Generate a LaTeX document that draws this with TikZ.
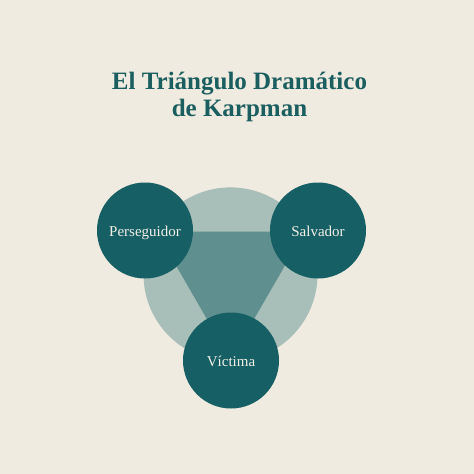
\documentclass[tikz,border=0pt]{standalone}
\usepackage{fontspec}
\setmainfont{Liberation Serif}
\definecolor{bgcol}{HTML}{EFEBE0}
\definecolor{lightcol}{HTML}{A8BEB8}
\definecolor{midcol}{HTML}{5F8F8E}
\definecolor{darkcol}{HTML}{165F64}
\definecolor{titlecol}{HTML}{1B5E60}
\definecolor{txtcol}{HTML}{F2EFE6}
\tikzset{
  role/.style={circle, fill=darkcol, draw=none, minimum size=96pt, inner sep=0pt,
    text=txtcol, font=\fontsize{15}{17}\selectfont, text height=12pt, text depth=0pt},
  ring/.style={circle, fill=lightcol, draw=none, minimum size=174pt, inner sep=0pt},
  titletext/.style={text=titlecol, font=\bfseries\fontsize{25}{28}\selectfont, align=center}
}
\begin{document}
\begin{tikzpicture}[x=1pt,y=-1pt]
\fill[bgcol] (0,0) rectangle (474,474);
\useasboundingbox (0,0) rectangle (474,474);
\node[titletext, anchor=base] (t1) at (239.5,89) {El Triángulo Dramático};
\node[titletext, anchor=base] (t2) at (239.5,116) {de Karpman};
\node[ring] (ring) at (230.5,274.4) {};
\coordinate (va) at (156.5,231.7);
\coordinate (vb) at (304.5,231.7);
\coordinate (vc) at (230.5,359.9);
\fill[midcol] (va) -- (vb) -- (vc) -- cycle;
\node[role] (per) at (145,230.5) {Perseguidor};
\node[role] (sal) at (318,230.5) {Salvador};
\node[role] (vic) at (231,360.5) {Víctima};
\end{tikzpicture}
\end{document}
